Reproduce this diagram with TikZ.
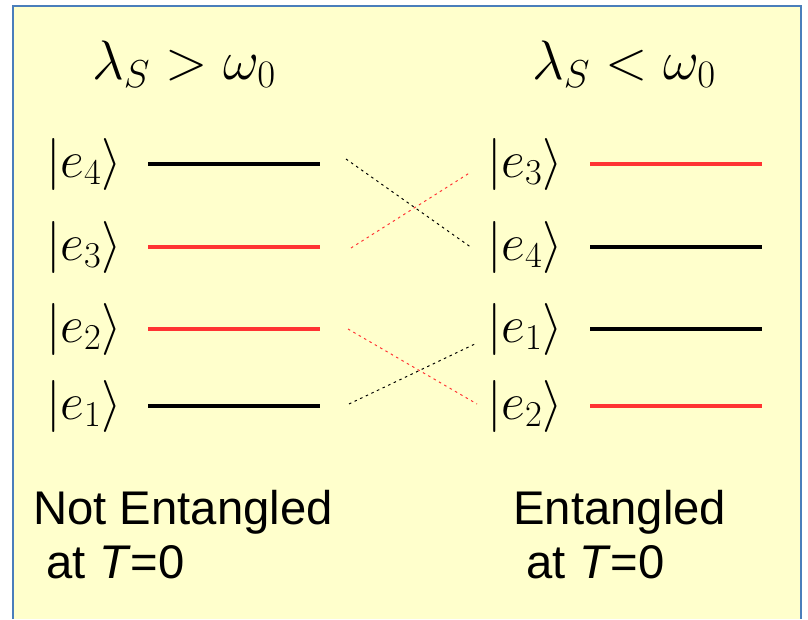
\RequirePackage{fix-cm}
\documentclass[tikz,border=0pt]{standalone}
\usepackage{amsmath}
\usepackage{fontspec}
\setsansfont{Liberation Sans}
\usepackage{xcolor}
\usetikzlibrary{positioning}

\definecolor{panelfill}{HTML}{FFFFCC}
\definecolor{panelline}{HTML}{4A7EBB}
\definecolor{levelred}{HTML}{FF3333}

\tikzset{
  level/.style={line width=2.8pt},
  cross/.style={line width=0.7pt, dash pattern=on 1.8pt off 2.6pt},
  ket/.style={anchor=east, inner sep=0pt, font=\fontsize{37}{44}\selectfont},
  title/.style={inner sep=0pt, font=\fontsize{39.5}{47}\selectfont},
  caption/.style={anchor=base west, inner sep=0pt, align=left,
    font=\sffamily\fontsize{33.6}{37.7}\selectfont},
}

\begin{document}
\begin{tikzpicture}[x=0.025cm, y=-0.025cm]
  \useasboundingbox (0,0) rectangle (808,619);
  % Panel
  \fill[panelfill] (13,6) rectangle (801,619);
  \draw[panelline, line width=1.4pt] (13,619) -- (13,6) -- (801,6) -- (801,619);
  % Titles
  \node[title, anchor=base] (tleft) at (184,79) {$\lambda_S > \omega_0$};
  \node[title, anchor=base] (tright) at (624,79) {$\lambda_S < \omega_0$};
  % Left levels
  \coordinate (la4) at (148,164); \coordinate (lb4) at (320,164);
  \coordinate (la3) at (148,247); \coordinate (lb3) at (320,247);
  \coordinate (la2) at (148,329); \coordinate (lb2) at (320,329);
  \coordinate (la1) at (148,406); \coordinate (lb1) at (320,406);
  \draw[level] (la4) -- (lb4);
  \draw[level, levelred] (la3) -- (lb3);
  \draw[level, levelred] (la2) -- (lb2);
  \draw[level] (la1) -- (lb1);
  \node[ket] (kl4) at (122,164) {$|e_4\rangle$};
  \node[ket] (kl3) at (122,247) {$|e_3\rangle$};
  \node[ket] (kl2) at (122,329) {$|e_2\rangle$};
  \node[ket] (kl1) at (122,406) {$|e_1\rangle$};
  % Right levels
  \coordinate (ra3) at (590,164); \coordinate (rb3) at (762,164);
  \coordinate (ra4) at (590,247); \coordinate (rb4) at (762,247);
  \coordinate (ra1) at (590,329); \coordinate (rb1) at (762,329);
  \coordinate (ra2) at (590,406); \coordinate (rb2) at (762,406);
  \draw[level, levelred] (ra3) -- (rb3);
  \draw[level] (ra4) -- (rb4);
  \draw[level] (ra1) -- (rb1);
  \draw[level, levelred] (ra2) -- (rb2);
  \node[ket] (kr3) at (563,164) {$|e_3\rangle$};
  \node[ket] (kr4) at (563,247) {$|e_4\rangle$};
  \node[ket] (kr1) at (563,329) {$|e_1\rangle$};
  \node[ket] (kr2) at (563,406) {$|e_2\rangle$};
  % Level crossings
  \coordinate (xa4) at (346,159); \coordinate (xb4) at (472,248);
  \coordinate (xa3) at (351,248); \coordinate (xb3) at (471,172);
  \coordinate (xa2) at (348,329); \coordinate (xb2) at (477,404);
  \coordinate (xa1) at (349,404); \coordinate (xb1) at (477,343);
  \draw[cross] (xa4) -- (xb4);
  \draw[cross, levelred] (xa3) -- (xb3);
  \draw[cross, levelred] (xa2) -- (xb2);
  \draw[cross] (xa1) -- (xb1);
  % Captions (base is the last line)
  \node[caption] (cleft) at (33,578) {Not Entangled\\\hspace{0.28em}at \textit{T}=0};
  \node[caption] (cright) at (513,578) {Entangled\\\hspace{0.28em}at \textit{T}=0};
\end{tikzpicture}
\end{document}
